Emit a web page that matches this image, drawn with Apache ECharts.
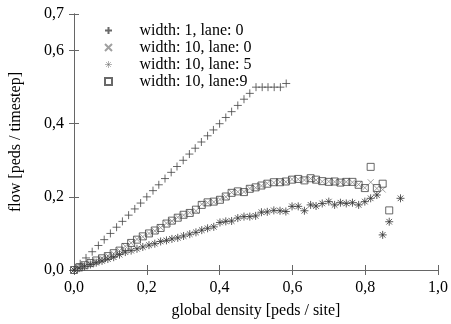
<!DOCTYPE html>
<html><head><meta charset="utf-8">
<script src="https://cdn.jsdelivr.net/npm/echarts@6/dist/echarts.min.js"></script>
<style>html,body{margin:0;padding:0;background:#fff}#c{width:451px;height:324px}</style>
</head><body><div id="c"></div>
<script>
const seriesNames = ['width: 1, lane: 0', 'width: 10, lane: 0', 'width: 10, lane: 5', 'width: 10, lane:9'];
const xTicks = [0, 0.2, 0.4, 0.6, 0.8, 1.0];
const yTicks = [0, 0.2, 0.4, 0.6, 0.7];

const density1 = [0.017,0.033,0.050,0.067,0.083,0.100,0.117,0.133,0.150,0.167,0.183,0.200,0.217,0.233,0.250,0.267,0.283,0.300,0.317,0.333,0.350,0.367,0.383,0.400,0.417,0.433,0.450,0.467,0.483,0.500,0.517,0.533,0.550,0.567,0.583];
const flowW1L0 = [0.017,0.033,0.050,0.067,0.083,0.100,0.117,0.133,0.150,0.167,0.183,0.200,0.217,0.233,0.250,0.267,0.283,0.300,0.317,0.333,0.350,0.367,0.383,0.400,0.417,0.433,0.450,0.467,0.483,0.500,0.500,0.500,0.500,0.500,0.510];

const density10 = [0.000,0.014,0.029,0.045,0.061,0.077,0.093,0.109,0.125,0.141,0.157,0.173,0.189,0.206,0.222,0.238,0.254,0.269,0.285,0.301,0.318,0.335,0.351,0.367,0.384,0.401,0.417,0.433,0.450,0.467,0.483,0.499,0.515,0.531,0.549,0.566,0.582,0.599,0.616,0.633,0.650,0.665,0.682,0.700,0.716,0.732,0.748,0.765,0.782,0.799,0.815,0.832,0.848,0.866,0.882,0.897];
const flowW10L0 = [0,0.007,0.014,0.019,0.025,0.032,0.039,0.045,0.053,0.065,0.074,0.084,0.091,0.100,0.107,0.116,0.128,0.134,0.144,0.150,0.157,0.162,0.180,0.184,0.186,0.193,0.200,0.212,0.214,0.214,0.223,0.225,0.230,0.237,0.239,0.241,0.241,0.248,0.248,0.246,0.250,0.246,0.242,0.242,0.241,0.240,0.241,0.240,0.234,0.225,0.240,0.223,0.220,null,null,null];
const flowW10L9 = [0,0.007,0.013,0.019,0.026,0.032,0.038,0.046,0.053,0.063,0.074,0.083,0.092,0.100,0.108,0.115,0.127,0.135,0.143,0.151,0.156,0.165,0.178,0.185,0.187,0.192,0.201,0.211,0.215,0.213,0.222,0.226,0.231,0.236,0.240,0.240,0.242,0.247,0.249,0.245,0.251,0.247,0.243,0.241,0.242,0.239,0.241,0.241,0.233,0.224,0.282,0.224,0.236,0.163,null,null];
const flowW10L5 = [0,0.005,0.010,0.015,0.020,0.025,0.030,0.035,0.042,0.049,0.053,0.058,0.063,0.068,0.072,0.078,0.081,0.085,0.088,0.093,0.098,0.103,0.109,0.114,0.118,0.130,0.133,0.134,0.142,0.146,0.146,0.148,0.158,0.159,0.163,0.162,0.160,0.174,0.174,0.162,0.178,0.175,0.182,0.187,0.178,0.184,0.182,0.184,0.178,0.187,0.196,0.205,0.096,0.132,null,0.196];

function pairs(xs, ys) {
  const out = [];
  for (let i = 0; i < xs.length; i++) if (ys[i] != null) out.push([xs[i], ys[i]]);
  return out;
}
const fmt = v => v.toFixed(1).replace('.', ',');
const FONT = 'Liberation Serif';
const frame = '#666';

const plusPath = 'path://M5 0L5 10M0 5L10 5';
const crossPath = 'path://M0 0L10 10M10 0L0 10';
const starPath = 'path://M5 0L5 10M0 5L10 5M1.5 1.5L8.5 8.5M8.5 1.5L1.5 8.5';
const boxPath = 'path://M0 0L10 0L10 10L0 10Z';

function mk(name, data, symbol, color, size) {
  return {
    name, type: 'scatter', data, symbol, symbolSize: size,
    itemStyle: { color: 'rgba(0,0,0,0)', borderColor: color, borderWidth: 1 },
    emphasis: { disabled: true }, silent: true, animation: false
  };
}

const chart = echarts.init(document.getElementById('c'), null, { renderer: 'canvas' });
chart.setOption({
  animation: false,
  textStyle: { fontFamily: FONT },
  grid: { left: 74, right: 11, top: 14, bottom: 53, containLabel: false },
  legend: {
    left: 99, top: 17, orient: 'vertical', selectedMode: false,
    itemWidth: 52, itemHeight: 7, itemGap: 0,
    textStyle: { fontFamily: FONT, fontSize: 16, color: '#000', lineHeight: 17 },
    data: [
      { name: seriesNames[0] },
      { name: seriesNames[1] },
      { name: seriesNames[2], itemStyle: { borderWidth: 0.6, borderColor: '#666' } },
      { name: seriesNames[3] }
    ]
  },
  xAxis: [{
    type: 'value', min: 0, max: 1, interval: 0.2,
    name: 'global density [peds / site]', nameLocation: 'middle', nameGap: 33,
    nameTextStyle: { fontFamily: FONT, fontSize: 16, color: '#000' },
    axisLine: { show: true, lineStyle: { color: frame } },
    axisTick: { show: true, inside: true, length: 5, lineStyle: { color: frame } },
    axisLabel: { fontFamily: FONT, fontSize: 16, color: '#000', margin: 10, formatter: fmt, customValues: xTicks },
    splitLine: { show: false }
  }, {
    type: 'value', min: 0, max: 1, interval: 0.2, position: 'top',
    axisLine: { show: true, lineStyle: { color: frame } },
    axisTick: { show: true, inside: true, length: 5, lineStyle: { color: frame } },
    axisLabel: { show: false }, splitLine: { show: false }
  }],
  yAxis: [{
    type: 'value', min: 0, max: 0.7, interval: 0.1,
    name: 'flow [peds / timestep]', nameLocation: 'middle', nameGap: 50, nameRotate: 90,
    nameTextStyle: { fontFamily: FONT, fontSize: 16, color: '#000' },
    axisLine: { show: true, lineStyle: { color: frame } },
    axisTick: { show: true, inside: true, length: 5, lineStyle: { color: frame }, customValues: yTicks },
    axisLabel: { fontFamily: FONT, fontSize: 16, color: '#000', margin: 10, formatter: fmt, customValues: yTicks },
    splitLine: { show: false }
  }, {
    type: 'value', min: 0, max: 0.7, interval: 0.1, position: 'right',
    axisLine: { show: true, lineStyle: { color: frame } },
    axisTick: { show: true, inside: true, length: 5, lineStyle: { color: frame }, customValues: yTicks },
    axisLabel: { show: false }, splitLine: { show: false }
  }],
  series: [
    mk(seriesNames[0], pairs(density1, flowW1L0), plusPath, '#444', 8),
    mk(seriesNames[1], pairs(density10, flowW10L0), crossPath, '#888', 6),
    mk(seriesNames[2], pairs(density10, flowW10L5), starPath, '#333', 8),
    mk(seriesNames[3], pairs(density10, flowW10L9), boxPath, '#444', 7)
  ]
});
</script></body></html>
